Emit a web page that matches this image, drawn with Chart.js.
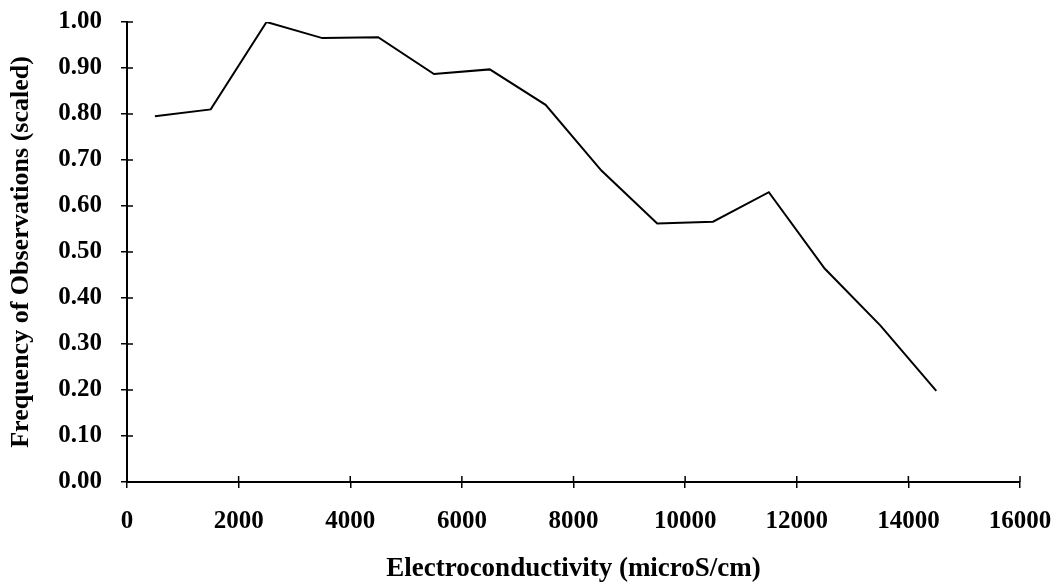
<!DOCTYPE html>
<html lang="en">
  <head>
    <meta charset="UTF-8" />
    <title>Frequency of Observations vs Electroconductivity</title>
    <script src="https://cdn.jsdelivr.net/npm/chart.js"></script>
    <style>
      body {
        margin: 0;
        background: #fff;
      }
      #wrap {
        width: 1058px;
        height: 586px;
      }
    </style>
  </head>
  <body>
    <div id="wrap"><canvas id="ecChart" width="1058" height="586"></canvas></div>

    <script>
      // bin centres (microS/cm) and scaled frequency
      const binCentres = [500, 1500, 2500, 3500, 4500, 5500, 6500, 7500, 8500, 9500, 10500, 11500, 12500, 13500, 14500];
      const freqScaled = [0.795, 0.81, 1.0, 0.965, 0.967, 0.887, 0.897, 0.82, 0.677, 0.562, 0.566, 0.63, 0.464, 0.34, 0.198];
      const xTicks = [0, 2000, 4000, 6000, 8000, 10000, 12000, 14000, 16000];
      const yTicks = [0, 0.1, 0.2, 0.3, 0.4, 0.5, 0.6, 0.7, 0.8, 0.9, 1.0];

      const serif = "'Liberation Serif', 'Times New Roman', serif";

      // ticks in the original cross the axis, draw the inner half here
      const innerTicks = {
        id: "innerTicks",
        afterDraw(chart) {
          const c = chart.ctx;
          const xs = chart.scales.x;
          const ys = chart.scales.y;
          const area = chart.chartArea;
          c.save();
          c.strokeStyle = "#000";
          c.lineWidth = 1.5;
          c.beginPath();
          xTicks.forEach((v) => {
            const px = xs.getPixelForValue(v);
            c.moveTo(px, area.bottom);
            c.lineTo(px, area.bottom - 6);
          });
          yTicks.forEach((v) => {
            const py = ys.getPixelForValue(v);
            c.moveTo(area.left, py);
            c.lineTo(area.left + 6, py);
          });
          c.stroke();
          c.restore();
        },
      };

      new Chart(document.getElementById("ecChart"), {
        type: "line",
        data: {
          datasets: [
            {
              data: binCentres.map((x, i) => ({ x: x, y: freqScaled[i] })),
              borderColor: "#000",
              borderWidth: 2,
              pointRadius: 0,
              tension: 0,
              fill: false,
            },
          ],
        },
        options: {
          responsive: false,
          animation: false,
          layout: { padding: { left: 0, right: 38, top: 22, bottom: 0 } },
          plugins: {
            legend: { display: false },
            tooltip: { enabled: false },
          },
          scales: {
            x: {
              type: "linear",
              min: 0,
              max: 16000,
              afterBuildTicks: (s) => {
                s.ticks = xTicks.map((v) => ({ value: v }));
              },
              afterFit: (s) => {
                s.height = 104;
                s.paddingLeft = 0;
                s.paddingRight = 0;
              },
              grid: {
                drawOnChartArea: false,
                color: "#000",
                lineWidth: 1.5,
                tickLength: 6,
              },
              border: { color: "#000", width: 2 },
              ticks: {
                color: "#000",
                padding: 19,
                maxRotation: 0,
                font: { family: serif, size: 25, weight: "bold" },
                callback: (v) => String(v),
              },
              title: {
                display: true,
                text: "Electroconductivity (microS/cm)",
                color: "#000",
                padding: { top: 0, bottom: 1 },
                font: { family: serif, size: 27, weight: "bold" },
              },
            },
            y: {
              min: 0,
              max: 1,
              afterBuildTicks: (s) => {
                s.ticks = yTicks.map((v) => ({ value: v }));
              },
              afterFit: (s) => {
                s.width = 127;
                s.paddingTop = 0;
                s.paddingBottom = 0;
              },
              grid: {
                drawOnChartArea: false,
                color: "#000",
                lineWidth: 1.5,
                tickLength: 6,
              },
              border: { color: "#000", width: 2 },
              ticks: {
                color: "#000",
                padding: 19,
                font: { family: serif, size: 25, weight: "bold" },
                callback: (v) => v.toFixed(2),
              },
              title: {
                display: true,
                text: "Frequency of Observations (scaled)",
                color: "#000",
                padding: { top: 6, bottom: 0 },
                font: { family: serif, size: 26, weight: "bold" },
              },
            },
          },
        },
        plugins: [innerTicks],
      });
    </script>
  </body>
</html>
